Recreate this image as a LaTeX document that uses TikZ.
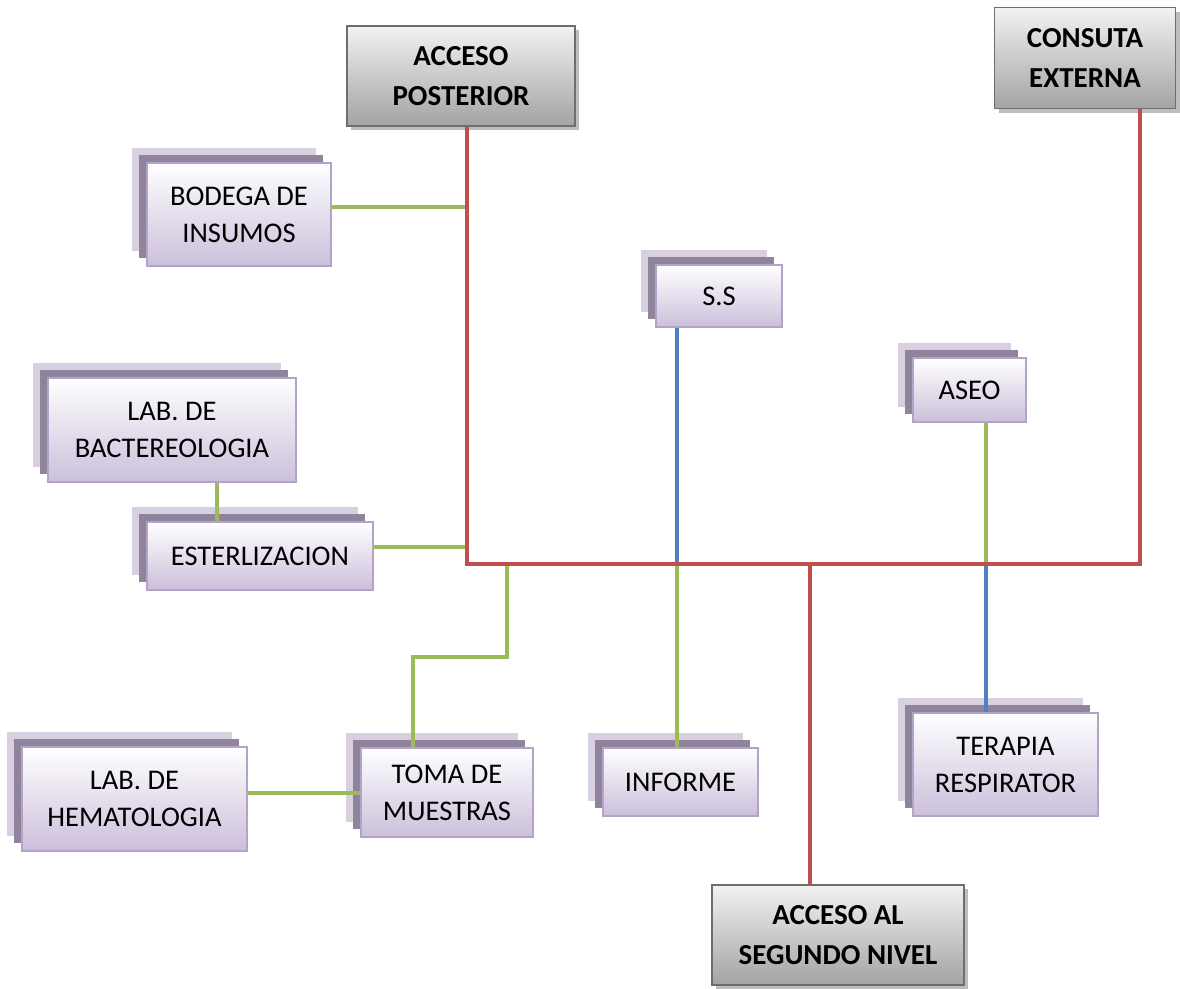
\documentclass[tikz,border=0pt]{standalone}
\usepackage{fontspec}
\setmainfont{Carlito}
\usetikzlibrary{shadows,calc}
\definecolor{redline}{HTML}{C0504D}
\definecolor{greenline}{HTML}{9BBB59}
\definecolor{blueline}{HTML}{4F81BD}
\definecolor{lavbot}{HTML}{CBBFDB}
\definecolor{lavborder}{HTML}{B4A3C8}
\definecolor{layerback}{HTML}{D8D0E1}
\definecolor{layermid}{HTML}{8F849B}
\definecolor{graytop}{HTML}{F2F2F2}
\definecolor{graybot}{HTML}{A3A3A3}
\definecolor{grayborder}{HTML}{6E6E6E}
\definecolor{grayshadow}{HTML}{BDBDBD}
\tikzset{
  lav/.style={draw=lavborder, line width=1.2pt, top color=white, bottom color=lavbot,
    inner sep=0pt, align=center, font=\fontsize{28.5}{37}\selectfont,
    general shadow={fill=layerback, shadow xshift=-15pt, shadow yshift=15pt},
    general shadow={fill=layermid, shadow xshift=-8pt, shadow yshift=8pt}},
  grayb/.style={draw=grayborder, line width=1.6pt, top color=graytop, bottom color=graybot,
    inner sep=0pt, align=center, font=\fontsize{29}{40}\selectfont\bfseries,
    general shadow={fill=grayshadow, shadow xshift=4pt, shadow yshift=-4pt}},
  redl/.style={draw=redline, line width=4.5pt},
  greenl/.style={draw=greenline, line width=4pt},
  bluel/.style={draw=blueline, line width=4pt}
}
\begin{document}
\begin{tikzpicture}[x=1pt,y=-1pt]
\useasboundingbox (0,0) rectangle (1180,988);
% gray access boxes
\node[grayb, minimum width=228pt, minimum height=100pt] (post) at (461,76) {ACCESO\\POSTERIOR};
\node[grayb, minimum width=181pt, minimum height=101pt] (cons) at (1085,58) {CONSUTA\\EXTERNA};
\node[grayb, minimum width=252pt, minimum height=100pt] (seg) at (838,935) {ACCESO AL\\SEGUNDO NIVEL};
% lavender boxes
\node[lav, minimum width=184pt, minimum height=103pt] (bod) at (239,214.5) {BODEGA DE\\INSUMOS};
\node[lav, minimum width=248pt, minimum height=104pt] (bact) at (172,430) {LAB. DE\\BACTEREOLOGIA};
\node[lav, minimum width=226pt, minimum height=68pt] (est) at (260,556) {ESTERLIZACION};
\node[lav, minimum width=225pt, minimum height=104pt] (hema) at (134.5,799) {LAB. DE\\HEMATOLOGIA};
\node[lav, minimum width=172pt, minimum height=89pt] (toma) at (447,792.5) {TOMA DE\\MUESTRAS};
\node[lav, minimum width=155pt, minimum height=68pt] (inf) at (680.5,782) {INFORME};
\node[lav, minimum width=185pt, minimum height=103pt] (ter) at (1005.5,764.5) {TERAPIA\\RESPIRATOR};
\node[lav, minimum width=126pt, minimum height=62pt] (ss) at (719,296) {S.S};
\node[lav, minimum width=113pt, minimum height=64pt] (aseo) at (969.5,390) {ASEO};
% junction points
\coordinate (jl) at (467,564);
\coordinate (jr) at (1140,564);
\coordinate (js) at (810,564);
\coordinate (jt) at (507,564);
\coordinate (jm) at (677,564);
\coordinate (ja) at (986,564);
% green and blue connectors
\draw[greenl] ([yshift=7.5pt]bod.east) coordinate (b1) -- (b1 -| jl);
\draw[greenl] ([xshift=45pt]bact.south) coordinate (b2) -- (b2 |- est.north);
\draw[greenl] ([yshift=9pt]est.east) coordinate (b3) -- (b3 -| jl);
\draw[greenl] (jt) -- ++(0,93) -| ([xshift=-34pt]toma.north);
\draw[greenl] (toma.west -| hema.east) -- (toma.west);
\draw[bluel] (jm |- ss.south) -- (jm);
\draw[greenl] (jm) -- (jm |- inf.north);
\draw[greenl] (ja |- aseo.south) -- (ja);
\draw[bluel] (ja) -- (ja |- ter.north);
% red main corridor
\draw[redl, line join=miter] ([xshift=6pt]post.south) -- (jl) -- (jr) -- ([xshift=55pt]cons.south);
\draw[redl] (js) -- ([xshift=-28pt]seg.north);
\end{tikzpicture}
\end{document}
